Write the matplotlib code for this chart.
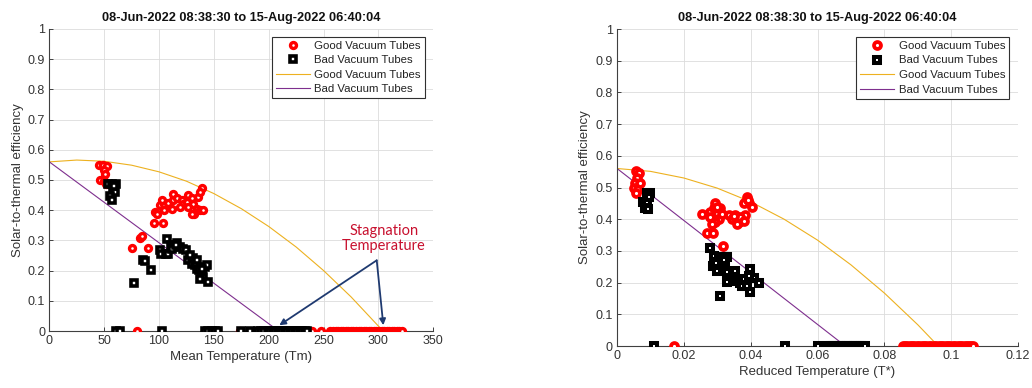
import matplotlib
matplotlib.use('Agg')
import matplotlib.pyplot as plt

plt.rcParams['font.family'] = ['Liberation Sans', 'DejaVu Sans']

title = '08-Jun-2022 08:38:30 to 15-Aug-2022 06:40:04'

# --- mean temperature panel ---
tm_good = [45.6, 49.2, 52.3, 50.2, 50.8, 46.2, 49.9, 51.5,
           75.1, 82.7, 84.2, 90.3, 95.7, 103.3, 96.3, 98.0,
           100.9, 104.5, 108.5, 112.5, 113.1, 116.1, 120.6, 122.1, 125.2, 126.7,
           129.8, 131.3, 134.3, 137.3, 140.4, 135.9, 138.9, 137.3, 131.9, 126.7,
           119.1, 111.5, 104.5, 102.4, 129.8,
           79.6, 174.0, 239, 248, 256, 258.5, 261, 263, 265.5, 268, 270, 272.5,
           275, 277, 279.5, 282, 284, 286.5, 289, 291, 293.5, 296, 298, 300.5,
           303, 305, 307.5, 310, 312, 314.5, 317, 319, 321]
eff_good = [0.549, 0.549, 0.547, 0.534, 0.519, 0.501, 0.497, 0.486,
            0.276, 0.309, 0.313, 0.276, 0.358, 0.358, 0.394, 0.389,
            0.416, 0.422, 0.424, 0.433, 0.455, 0.439, 0.433, 0.422, 0.428, 0.449,
            0.439, 0.422, 0.405, 0.399, 0.402, 0.444, 0.475, 0.461, 0.388, 0.411,
            0.411, 0.405, 0.399, 0.433, 0.389,
            0, 0, 0, 0, 0, 0, 0, 0, 0, 0, 0, 0,
            0, 0, 0, 0, 0, 0, 0, 0, 0, 0, 0, 0,
            0, 0, 0, 0, 0, 0, 0, 0, 0]

tm_bad = [53.8, 56.8, 60.8, 58.4, 59.9, 55.3, 56.9, 58.5,
          77.2, 85.7, 87.5, 92.7, 100.9, 101.5, 107.0, 106.4, 108.5, 110.6, 113.1,
          116.7, 119.1, 122.1, 124.6, 126.1, 131.3, 129.8, 132.8, 134.3, 136.8,
          138.9, 140.4, 141.9, 143.4, 144.9, 137.3, 134.3, 111.5, 115.0, 128.0, 139.5,
          60.5, 64.0, 103.0, 142.0, 145.0, 148.0, 151.0, 153.5, 174.5, 183.0,
          190, 193, 196, 199, 201.5, 203.5, 206, 208, 210.5, 212.5, 215, 217,
          219.5, 221.5, 224, 226, 228.5, 230.5, 233, 235]
eff_bad = [0.488, 0.488, 0.488, 0.471, 0.460, 0.446, 0.435, 0.479,
           0.159, 0.236, 0.232, 0.201, 0.269, 0.254, 0.306, 0.256, 0.256, 0.284, 0.278,
           0.291, 0.278, 0.273, 0.269, 0.234, 0.243, 0.223, 0.217, 0.206, 0.201,
           0.190, 0.179, 0.212, 0.217, 0.162, 0.173, 0.234, 0.270, 0.285, 0.250, 0.205,
           0, 0, 0, 0, 0, 0, 0, 0, 0, 0,
           0, 0, 0, 0, 0, 0, 0, 0, 0, 0, 0, 0,
           0, 0, 0, 0, 0, 0, 0, 0]

# fitted efficiency curves
tm_fit_good = [0, 25, 50, 75, 100, 125, 150, 175, 200, 225, 250, 275, 300, 304]
eff_fit_good = [0.560, 0.566, 0.562, 0.549, 0.527, 0.496, 0.455, 0.405, 0.346,
                0.278, 0.200, 0.113, 0.016, 0.0]
tm_fit_bad = [0, 209]
eff_fit_bad = [0.56, 0.0]

# --- reduced temperature panel ---
ts_good = [0.0058, 0.0065, 0.0060, 0.0055, 0.0050, 0.0062, 0.0058, 0.0068,
           0.0254, 0.0269, 0.0287, 0.0317,
           0.0279, 0.0289, 0.0294, 0.0299, 0.0304, 0.0289, 0.0309, 0.0279, 0.0294,
           0.0314, 0.0299, 0.0284,
           0.0334, 0.0344, 0.0354, 0.0364, 0.0374, 0.0384, 0.0359, 0.0369, 0.0349,
           0.0379, 0.0389, 0.0394, 0.0379, 0.0404, 0.0392,
           0.0171, 0.0855, 0.0862, 0.0869, 0.0876, 0.0883, 0.0890, 0.0897, 0.0905,
           0.0912, 0.0919, 0.0926, 0.0933, 0.0940, 0.0947, 0.0955, 0.0962, 0.0969,
           0.0976, 0.0983, 0.0990, 0.0997, 0.1004, 0.1012, 0.1019, 0.1026, 0.1033,
           0.1040, 0.1047, 0.1054, 0.1060, 0.1065]
eff2_good = [0.553, 0.545, 0.529, 0.513, 0.500, 0.494, 0.484, 0.513,
             0.418, 0.357, 0.357, 0.315,
             0.423, 0.434, 0.450, 0.418, 0.402, 0.402, 0.434, 0.408, 0.392,
             0.418, 0.440, 0.385,
             0.413, 0.402, 0.413, 0.392, 0.402, 0.413, 0.384, 0.408, 0.410,
             0.395, 0.471, 0.450, 0.450, 0.437, 0.462,
             0, 0, 0, 0, 0, 0, 0, 0, 0,
             0, 0, 0, 0, 0, 0, 0, 0, 0,
             0, 0, 0, 0, 0, 0, 0, 0, 0,
             0, 0, 0, 0, 0]

ts_bad = [0.0090, 0.0098, 0.0095, 0.0078, 0.0090, 0.0085, 0.0092,
          0.0277, 0.0289, 0.0287, 0.0299, 0.0304, 0.0314, 0.0324, 0.0329, 0.0309,
          0.0329, 0.0329, 0.0354, 0.0359, 0.0369, 0.0379, 0.0374, 0.0389, 0.0397,
          0.0399, 0.0411, 0.0424, 0.0394, 0.0319, 0.0296,
          0.0110, 0.0504, 0.0602, 0.0632, 0.0639, 0.0646, 0.0653, 0.0660, 0.0667,
          0.0674, 0.0681, 0.0688, 0.0695, 0.0702, 0.0709, 0.0716, 0.0723, 0.0730,
          0.0736, 0.0742]
eff2_bad = [0.484, 0.484, 0.471, 0.455, 0.450, 0.434, 0.431,
            0.308, 0.284, 0.253, 0.237, 0.270, 0.281, 0.265, 0.281, 0.158,
            0.232, 0.203, 0.237, 0.205, 0.200, 0.211, 0.190, 0.190, 0.169,
            0.243, 0.216, 0.200, 0.221, 0.270, 0.262,
            0, 0, 0, 0, 0, 0, 0, 0, 0,
            0, 0, 0, 0, 0, 0, 0, 0, 0,
            0, 0]

ts_fit_good = [0, 0.01, 0.02, 0.03, 0.04, 0.05, 0.06, 0.07, 0.08, 0.09, 0.0961]
eff2_fit_good = [0.560, 0.551, 0.530, 0.498, 0.455, 0.400, 0.334, 0.256, 0.167, 0.067, 0.0]
ts_fit_bad = [0, 0.0683]
eff2_fit_bad = [0.56, 0.0]

yellow = '#EDB120'
purple = '#7E2F8E'
txt = '#333333'


def style_axes(ax, xlim, xticks, xticklabels, xlabel):
    ax.set_xlim(xlim)
    ax.set_ylim(0, 1)
    ax.set_xticks(xticks)
    ax.set_xticklabels(xticklabels)
    ax.set_yticks([i / 10 for i in range(11)])
    ax.set_yticklabels(['0', '0.1', '0.2', '0.3', '0.4', '0.5', '0.6', '0.7', '0.8', '0.9', '1'])
    ax.grid(True, color='#DCDCDC', lw=0.6)
    ax.set_axisbelow(True)
    for s in ['top', 'right']:
        ax.spines[s].set_visible(False)
    for s in ['left', 'bottom']:
        ax.spines[s].set_color('#404040')
        ax.spines[s].set_linewidth(0.8)
    ax.tick_params(direction='in', length=3, width=0.7, colors='#404040',
                   labelsize=9, labelcolor=txt, pad=3)
    ax.set_xlabel(xlabel, fontsize=9.5, color=txt, labelpad=3)
    ax.set_ylabel('Solar-to-thermal efficiency', fontsize=9.5, color=txt, labelpad=3)
    ax.set_title(title, fontsize=9.2, fontweight='bold', color='#111111', pad=6)
    leg = ax.legend(loc='upper right', fontsize=8.2, frameon=True, fancybox=False,
                    framealpha=1, edgecolor='#303030', borderpad=0.35,
                    labelspacing=0.4, handlelength=3.0, handletextpad=0.4,
                    bbox_to_anchor=(0.978, 0.975), borderaxespad=0)
    leg.get_frame().set_linewidth(0.8)
    for t in leg.get_texts():
        t.set_color('#222222')


fig = plt.figure(figsize=(10.32, 3.88), dpi=100, facecolor='w')

ax = fig.add_axes([0.0478, 0.1469, 0.3721, 0.7784])
ax.plot(tm_good, eff_good, 'o', ls='none', ms=4.3, mew=2.4, mec='#FF0000', mfc='white',
        label='Good Vacuum Tubes', zorder=3)
ax.plot(tm_bad, eff_bad, 's', ls='none', ms=4.0, mew=2.6, mec='black', mfc='white',
        label='Bad Vacuum Tubes', zorder=4)
ax.plot(tm_fit_good, eff_fit_good, color=yellow, lw=0.8, label='Good Vacuum Tubes', zorder=2)
ax.plot(tm_fit_bad, eff_fit_bad, color=purple, lw=0.8, label='Bad Vacuum Tubes', zorder=2)
style_axes(ax, (0, 350), range(0, 351, 50), [str(v) for v in range(0, 351, 50)],
           'Mean Temperature (Tm)')

# stagnation callout
ax.text(305, 0.305, 'Stagnation\nTemperature', color='#C8102E', fontsize=10.5,
        family=['Lato', 'DejaVu Sans'], ha='center', va='center', linespacing=1.1)
for tx, ty in [(209.6, 0.019), (304.4, 0.019)]:
    ax.annotate('', xy=(tx, ty), xytext=(298.4, 0.234),
                arrowprops=dict(arrowstyle='-|>', color='#1F3A70', lw=1.3,
                                mutation_scale=9, shrinkA=0, shrinkB=0), zorder=5)

ax1 = fig.add_axes([0.5979, 0.1082, 0.3886, 0.8170])
ax1.plot(ts_good, eff2_good, 'o', ls='none', ms=5.0, mew=2.7, mec='#FF0000', mfc='white',
         label='Good Vacuum Tubes', zorder=3)
ax1.plot(ts_bad, eff2_bad, 's', ls='none', ms=4.6, mew=2.9, mec='black', mfc='white',
         label='Bad Vacuum Tubes', zorder=4)
ax1.plot(ts_fit_good, eff2_fit_good, color=yellow, lw=0.8, label='Good Vacuum Tubes', zorder=2)
ax1.plot(ts_fit_bad, eff2_fit_bad, color=purple, lw=0.8, label='Bad Vacuum Tubes', zorder=2)
style_axes(ax1, (0, 0.12), [0, 0.02, 0.04, 0.06, 0.08, 0.1, 0.12],
           ['0', '0.02', '0.04', '0.06', '0.08', '0.1', '0.12'],
           'Reduced Temperature (T*)')

fig.savefig('out.png', dpi=100)
